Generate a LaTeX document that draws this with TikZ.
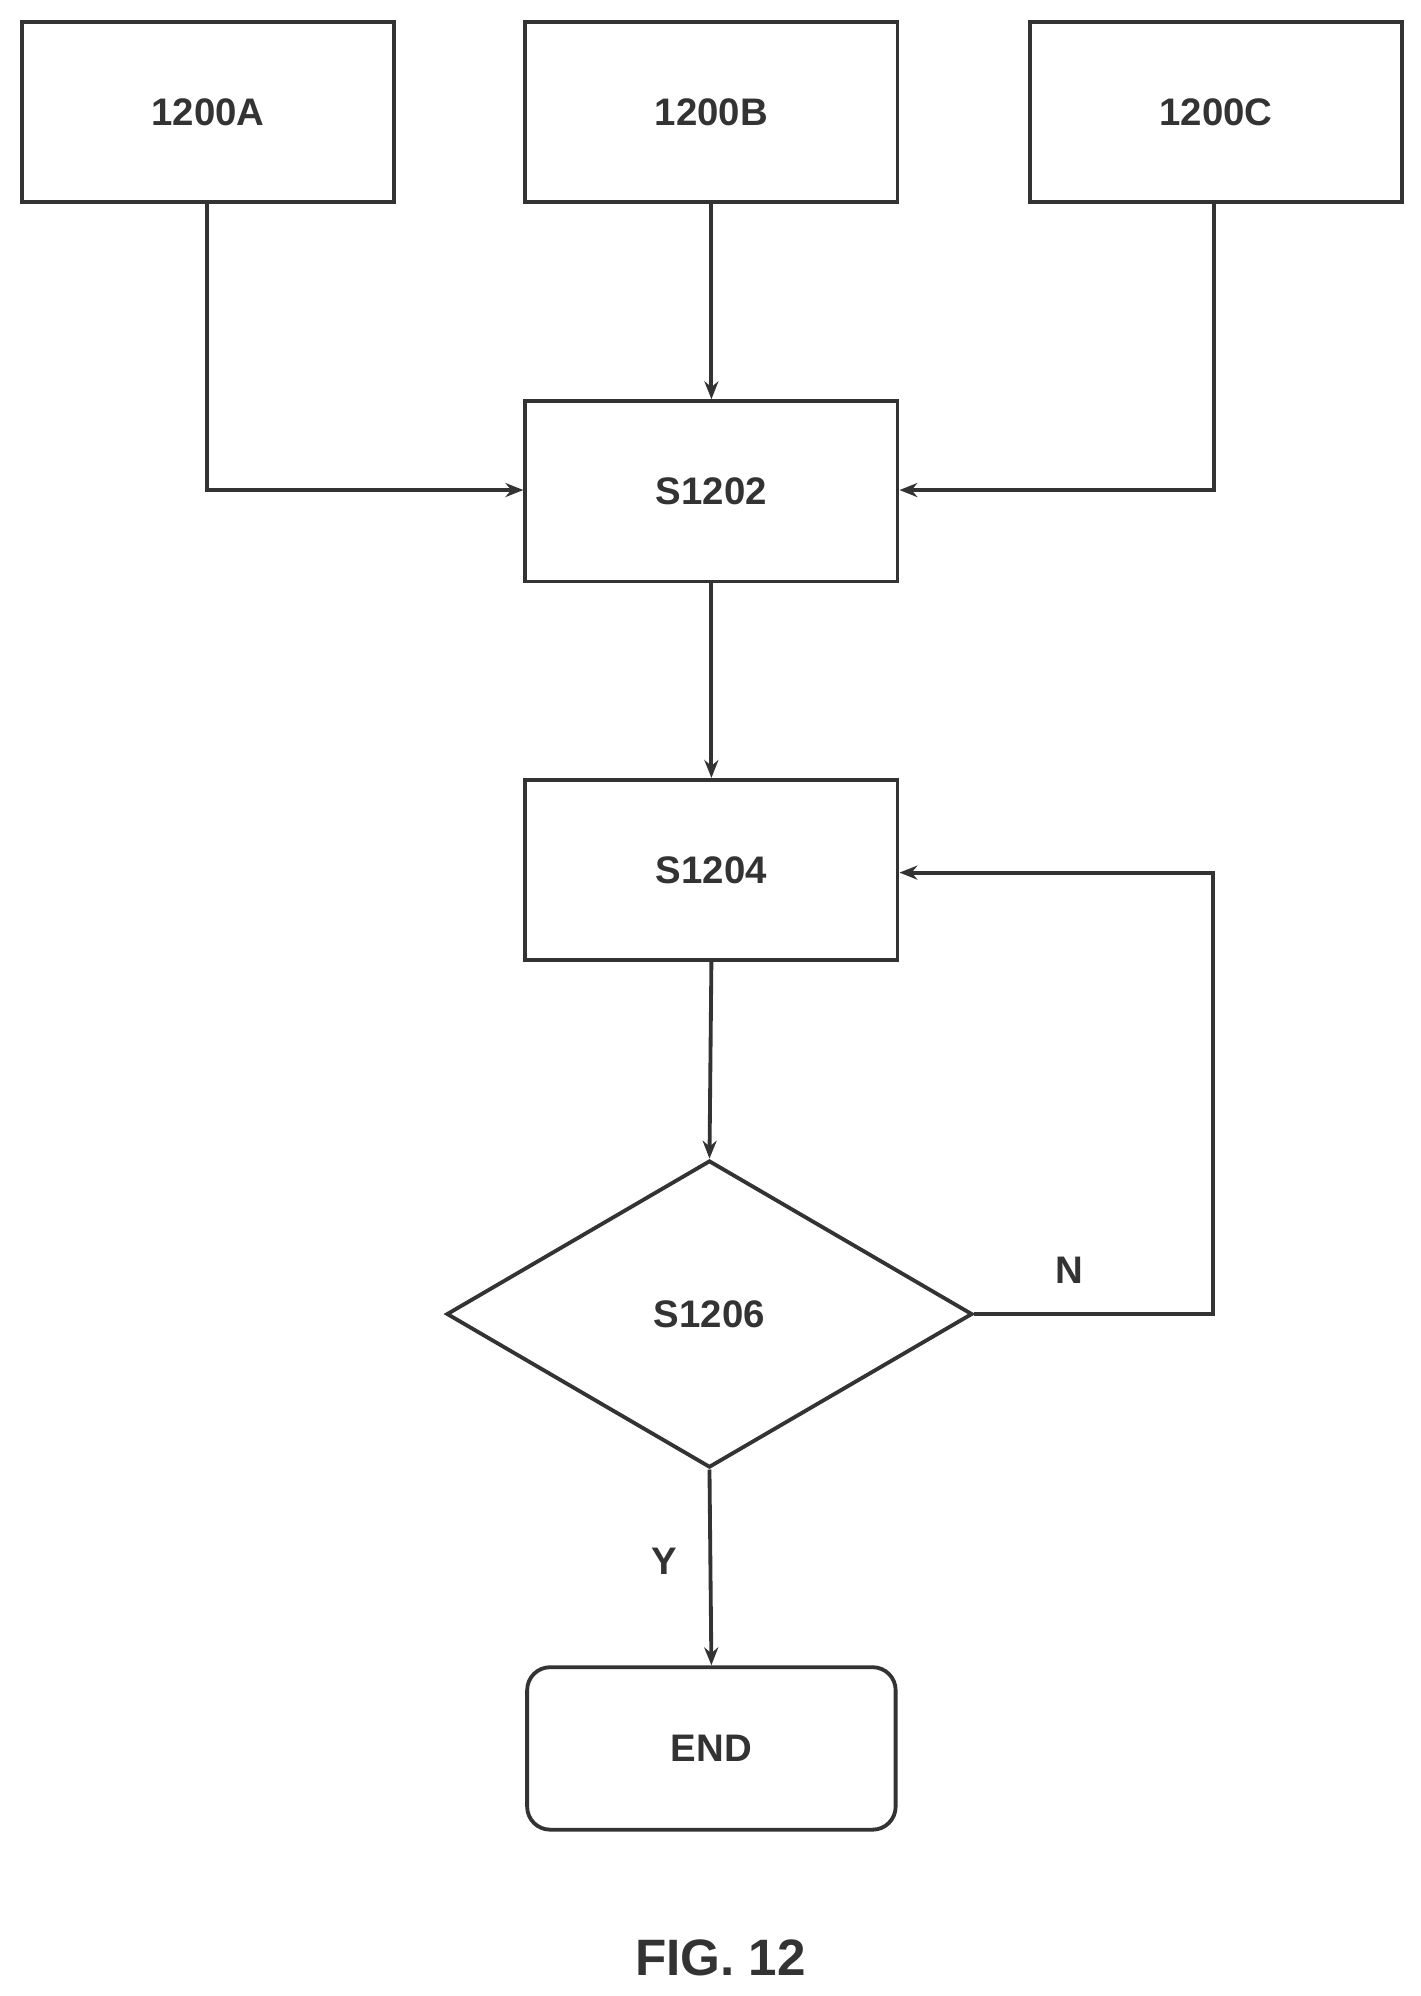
\documentclass[tikz,border=0pt]{standalone}
\usepackage{fontspec}
\setmainfont{Liberation Sans}
\usetikzlibrary{shapes.geometric,arrows.meta}
\begin{document}
\begin{tikzpicture}[x=1pt,y=-1pt,
  box/.style={draw=black!80,line width=3pt,minimum width=291pt,minimum height=141pt,inner sep=0pt,font=\fontsize{30}{36}\selectfont\bfseries,text=black!80},
  arr/.style={draw=black!80,line width=3pt,-{Stealth[length=14pt,width=11pt]}},
  lbl/.style={font=\fontsize{30}{36}\selectfont\bfseries,text=black!80}]
\useasboundingbox (0,0) rectangle (1110,1560);
\node[box] (A) at (162.5,87.5) {1200A};
\node[box] (B) at (556,87.5) {1200B};
\node[box] (C) at (950.5,87.5) {1200C};
\node[box] (S2) at (556,384) {S1202};
\node[box] (S4) at (556,680) {S1204};
\node[draw=black!80,line width=3pt,diamond,aspect=1.71,minimum width=411pt,minimum height=240pt,inner sep=0pt,font=\fontsize{30}{36}\selectfont\bfseries,text=black!80] (D) at (554.5,1027) {S1206};
\node[box,rounded corners=18pt,minimum width=288pt,minimum height=127pt] (E) at (556,1366.5) {END};
\node[font=\fontsize{40}{48}\selectfont\bfseries,text=black!80] (F) at (563,1530) {FIG. 12};
\coordinate (a1) at (162,383);
\coordinate (c1) at (949,383);
\coordinate (n1) at (948,1027);
\coordinate (n2) at (948,682);
\draw[arr] (A.south -| a1) -- (a1) -- (S2.west |- a1);
\draw[arr] (C.south -| c1) -- (c1) -- (S2.east |- c1);
\draw[arr] (B) -- (S2);
\draw[arr] (S2) -- (S4);
\draw[arr] (S4.south) -- (D.north);
\draw[arr] (D.east) -- (n1) -- (n2) -- (S4.east |- n2);
\draw[arr] (D.south) -- (E.north);
\node[lbl] (N) at (836,993) {N};
\node[lbl] (Y) at (519,1220) {Y};
\end{tikzpicture}
\end{document}
